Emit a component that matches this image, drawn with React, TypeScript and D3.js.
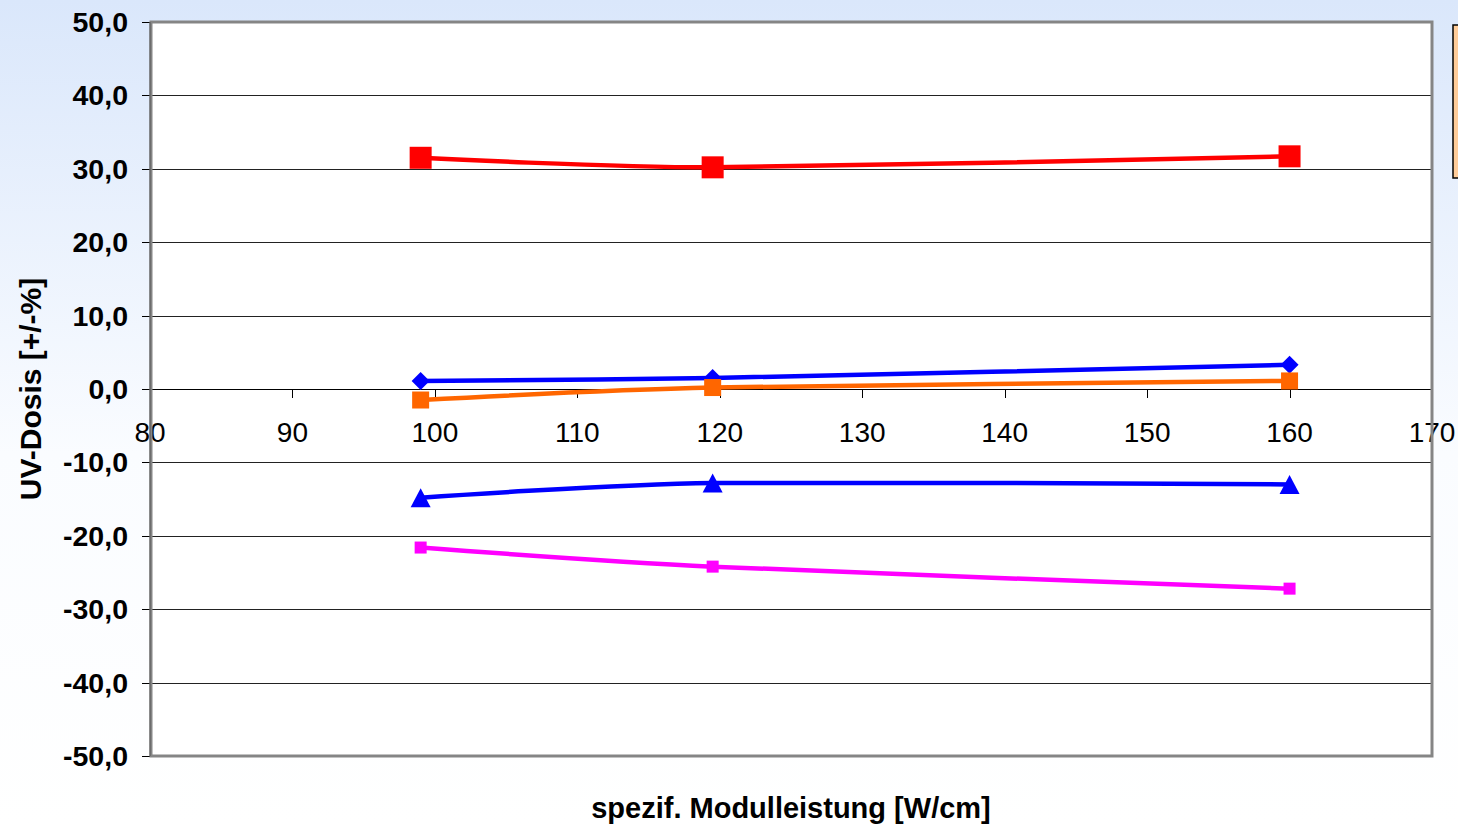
import React from "react";
import * as d3 from "d3";

// Module power settings (W/cm) at which the UV dose deviation was measured
const leistung = [99, 119.5, 160];

// UV dose deviation [+/-%] per series
const serieRot = [31.5, 30.2, 31.7];
const serieRaute = [1.1, 1.5, 3.3];
const serieOrange = [-1.5, 0.2, 1.1];
const serieDreieck = [-14.8, -12.8, -13.0];
const serieMagenta = [-21.6, -24.2, -27.2];

const xTicks = [80, 90, 100, 110, 120, 130, 140, 150, 160, 170];
const yTicks = [50, 40, 30, 20, 10, 0, -10, -20, -30, -40, -50];

const W = 1458;
const H = 825;
const plot = { left: 150, right: 1432, top: 22, bottom: 756 };

const FONT = "'Liberation Sans', Arial, Helvetica, sans-serif";

type Marker = "square" | "diamond" | "triangle";

interface Serie {
  name: string;
  values: number[];
  color: string;
  marker: Marker;
  size: number;
}

const serien: Serie[] = [
  { name: "rot", values: serieRot, color: "#ff0000", marker: "square", size: 22 },
  { name: "raute", values: serieRaute, color: "#0000ff", marker: "diamond", size: 18 },
  { name: "orange", values: serieOrange, color: "#ff6600", marker: "square", size: 17 },
  { name: "dreieck", values: serieDreieck, color: "#0000ff", marker: "triangle", size: 20 },
  { name: "magenta", values: serieMagenta, color: "#ff00ff", marker: "square", size: 12 },
];

export default function App() {
  const x = d3.scaleLinear().domain([80, 170]).range([plot.left, plot.right]);
  const y = d3.scaleLinear().domain([-50, 50]).range([plot.bottom, plot.top]);

  const line = d3
    .line<[number, number]>()
    .x((d) => x(d[0]))
    .y((d) => y(d[1]))
    .curve(d3.curveCardinal.tension(0.3));

  const fmt = (v: number) => v.toFixed(1).replace(".", ",");

  const drawMarker = (s: Serie, cx: number, cy: number, key: string) => {
    const h = s.size / 2;
    if (s.marker === "square") {
      return <rect key={key} x={cx - h} y={cy - h} width={s.size} height={s.size} fill={s.color} />;
    }
    if (s.marker === "diamond") {
      const p = `${cx},${cy - h} ${cx + h},${cy} ${cx},${cy + h} ${cx - h},${cy}`;
      return <polygon key={key} points={p} fill={s.color} />;
    }
    const th = s.size * 0.95;
    const p = `${cx},${cy - th / 2} ${cx + h},${cy + th / 2} ${cx - h},${cy + th / 2}`;
    return <polygon key={key} points={p} fill={s.color} />;
  };

  return (
    <svg
      width={W}
      height={H}
      style={{ position: "absolute", left: 0, top: 0, display: "block" }}
      fontFamily={FONT}
    >
      <defs>
        <linearGradient id="bg" x1="0" y1="0" x2="0" y2="1">
          <stop offset="0" stopColor="#dae7fb" />
          <stop offset="0.55" stopColor="#fafcff" />
          <stop offset="1" stopColor="#ffffff" />
        </linearGradient>
      </defs>
      <rect x={0} y={0} width={W} height={H} fill="url(#bg)" />

      {/* plot area */}
      <rect
        x={plot.left}
        y={plot.top}
        width={plot.right - plot.left}
        height={plot.bottom - plot.top}
        fill="#ffffff"
      />

      {/* horizontal gridlines */}
      {yTicks
        .filter((t) => t !== 50 && t !== -50)
        .map((t) => (
          <line
            key={`g${t}`}
            x1={plot.left}
            x2={plot.right}
            y1={Math.round(y(t)) + 0.5}
            y2={Math.round(y(t)) + 0.5}
            stroke="#222"
            strokeWidth={1}
          />
        ))}

      {/* y ticks and labels */}
      {yTicks.map((t) => (
        <g key={`y${t}`}>
          <line
            x1={plot.left - 8}
            x2={plot.left}
            y1={Math.round(y(t)) + 0.5}
            y2={Math.round(y(t)) + 0.5}
            stroke="#000"
            strokeWidth={1}
          />
          <text
            x={128}
            y={y(t)}
            textAnchor="end"
            dominantBaseline="central"
            fontSize={28.5}
            fontWeight="bold"
            fill="#000"
          >
            {fmt(t)}
          </text>
        </g>
      ))}

      {/* x axis at zero with ticks and labels */}
      <line
        x1={plot.left}
        x2={plot.right}
        y1={Math.round(y(0)) + 0.5}
        y2={Math.round(y(0)) + 0.5}
        stroke="#000"
        strokeWidth={1}
      />
      {xTicks.map((t) => (
        <g key={`x${t}`}>
          <line
            x1={Math.round(x(t)) + 0.5}
            x2={Math.round(x(t)) + 0.5}
            y1={y(0)}
            y2={y(0) + 9}
            stroke="#000"
            strokeWidth={1}
          />
          <text x={x(t)} y={442} textAnchor="middle" fontSize={28} fill="#000">
            {t}
          </text>
        </g>
      ))}

      {/* plot frame */}
      <rect
        x={plot.left + 1}
        y={plot.top}
        width={plot.right - plot.left - 1}
        height={plot.bottom - plot.top}
        fill="none"
        stroke="#858585"
        strokeWidth={3}
      />
      <line x1={plot.left} x2={plot.left} y1={plot.top} y2={plot.bottom} stroke="#555" strokeWidth={1} />

      {/* series lines and markers */}
      {serien.map((s) => {
        const pts = leistung.map((l, i) => [l, s.values[i]] as [number, number]);
        return (
          <g key={s.name}>
            <path d={line(pts) || ""} fill="none" stroke={s.color} strokeWidth={4.5} />
            {pts.map((p, i) => drawMarker(s, x(p[0]), y(p[1]), `${s.name}${i}`))}
          </g>
        );
      })}

      {/* legend box (cut at the right edge) */}
      <rect x={1453} y={25} width={30} height={153} fill="#ffcc99" stroke="#000" strokeWidth={1.5} />

      {/* axis titles */}
      <text
        transform={`translate(30, ${(plot.top + plot.bottom) / 2}) rotate(-90)`}
        textAnchor="middle"
        dominantBaseline="central"
        fontSize={30}
        fontWeight="bold"
        fill="#000"
      >
        UV-Dosis [+/-%]
      </text>
      <text x={791} y={818} textAnchor="middle" fontSize={29} fontWeight="bold" fill="#000">
        spezif. Modulleistung [W/cm]
      </text>
    </svg>
  );
}
